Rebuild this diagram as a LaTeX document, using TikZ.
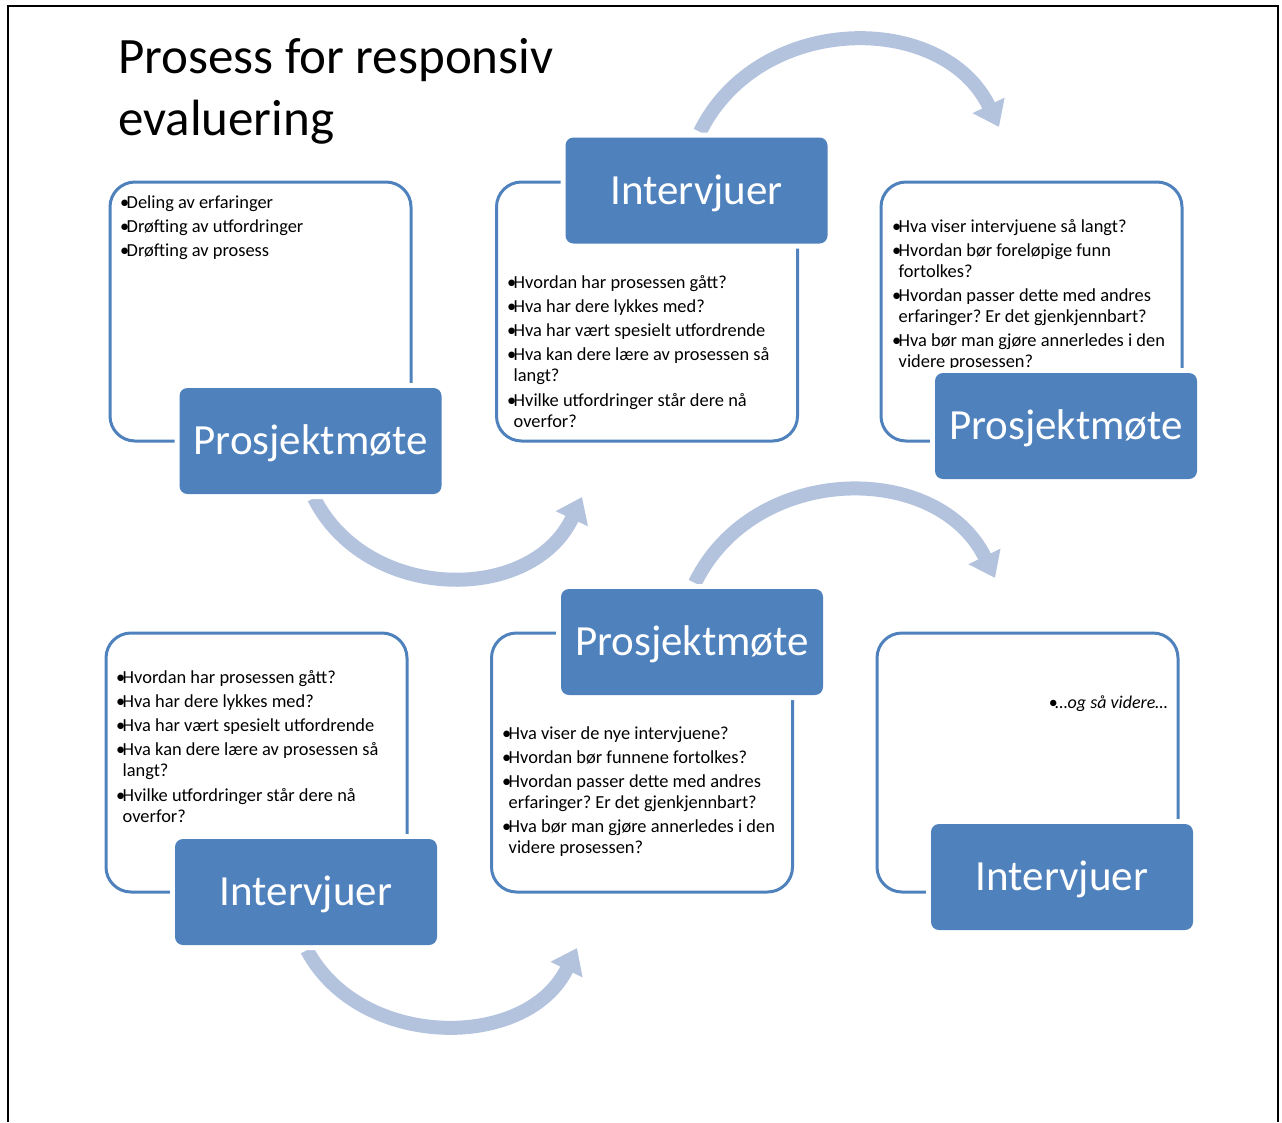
\documentclass[tikz,border=0pt]{standalone}
\usepackage{fontspec}
\setmainfont{Carlito}
\usetikzlibrary{arrows.meta}
\definecolor{boxblue}{HTML}{4F81BD}
\definecolor{arrowc}{HTML}{B3C3DE}
\newcommand\bi{\makebox[6.5pt][l]{•}}
\newcommand\ci{\hspace*{6.5pt}}
\newcommand\natsp{\spaceskip=0pt\xspaceskip=0pt\relax}
\frenchspacing
\begin{document}
\begin{tikzpicture}[x=1pt,y=-1pt,
  outline/.style={draw=boxblue, line width=3pt, rounded corners=25pt,
    minimum width=301pt, minimum height=259pt, inner sep=0pt},
  stage/.style={fill=boxblue, rounded corners=8pt, minimum width=262pt,
    minimum height=106pt, text=white, font=\fontsize{43}{50}\selectfont,
    text height=27.7pt, text depth=0pt, inner sep=0pt,
    preaction={draw=white, line width=10pt}},
  bullets/.style={anchor=base west, inner sep=0pt, text width=320pt,
    align=left, font=\fontsize{18.4}{21}\selectfont},
  flow/.style={draw=arrowc, line width=14pt, -{Triangle[width=34pt,length=24pt]}}
]
\useasboundingbox (0,0) rectangle (1282,1122);
% frame
\draw[line width=2pt] (8,1122) -- (8,6) -- (1278,6) -- (1278,1122);
% title
\node[anchor=base west, inner sep=0pt, text width=700pt, align=left,
  font=\fontsize{51}{62}\selectfont] (title) at (118,73)
  {\natsp Prosess for responsiv\\evaluering};
% arrow coordinates
\coordinate (a1s) at (700,132); \coordinate (a1e) at (999,127);
\coordinate (a2s) at (314,498); \coordinate (a2e) at (582,497);
\coordinate (a3s) at (695,583); \coordinate (a3e) at (995,578);
\coordinate (a4s) at (307,950); \coordinate (a4e) at (577,948);
\draw[flow] (a1s) .. controls (759,12) and (943,11) .. (a1e);
\draw[flow] (a2s) .. controls (367,603) and (532,604) .. (a2e);
\draw[flow] (a3s) .. controls (754,462) and (938,461) .. (a3e);
\draw[flow] (a4s) .. controls (360,1050) and (527,1051) .. (a4e);
% outlines
\node[outline] (o1) at (260.5,311.5) {};
\node[outline] (o2) at (647,311.5) {};
\node[outline] (o3) at (1031.5,311.5) {};
\node[outline] (o4) at (256.5,762.5) {};
\node[outline] (o5) at (642,762.5) {};
\node[outline] (o6) at (1027.5,762.5) {};
% texts
\node[bullets] (t1) at (120,208) {\natsp\bi Deling av erfaringer\\[3pt]
\bi Drøfting av utfordringer\\[3pt]
\bi Drøfting av prosess};
\node[bullets] (t2) at (507,288) {\natsp\bi Hvordan har prosessen gått?\\[3.3pt]
\bi Hva har dere lykkes med?\\[3.3pt]
\bi Hva har vært spesielt utfordrende\\[3.3pt]
\bi Hva kan dere lære av prosessen så\\ \ci langt?\\[3.3pt]
\bi Hvilke utfordringer står dere nå\\ \ci overfor?};
\node[bullets] (t3) at (892,232) {\natsp\bi Hva viser intervjuene så langt?\\[3.3pt]
\bi Hvordan bør foreløpige funn\\ \ci fortolkes?\\[3.3pt]
\bi Hvordan passer dette med andres\\ \ci erfaringer? Er det gjenkjennbart?\\[3.3pt]
\bi Hva bør man gjøre annerledes i den\\ \ci videre prosessen?};
\node[bullets] (t4) at (116,683) {\natsp\bi Hvordan har prosessen gått?\\[3.3pt]
\bi Hva har dere lykkes med?\\[3.3pt]
\bi Hva har vært spesielt utfordrende\\[3.3pt]
\bi Hva kan dere lære av prosessen så\\ \ci langt?\\[3.3pt]
\bi Hvilke utfordringer står dere nå\\ \ci overfor?};
\node[bullets] (t5) at (502,739) {\natsp\bi Hva viser de nye intervjuene?\\[3.3pt]
\bi Hvordan bør funnene fortolkes?\\[3.3pt]
\bi Hvordan passer dette med andres\\ \ci erfaringer? Er det gjenkjennbart?\\[3.3pt]
\bi Hva bør man gjøre annerledes i den\\ \ci videre prosessen?};
\node[anchor=base east, inner sep=0pt, font=\fontsize{18}{21}\selectfont] (t6)
  at (1168,708) {\bi\textit{…og så videre…}};
% stage boxes
\node[stage] (p1) at (310.5,441) {Prosjektmøte};
\node[stage] (i2) at (696.5,190.5) {Intervjuer};
\node[stage] (p3) at (1066,426) {Prosjektmøte};
\node[stage] (i4) at (306,892) {Intervjuer};
\node[stage] (p5) at (692,642) {Prosjektmøte};
\node[stage] (i6) at (1062,877) {Intervjuer};
\end{tikzpicture}
\end{document}
